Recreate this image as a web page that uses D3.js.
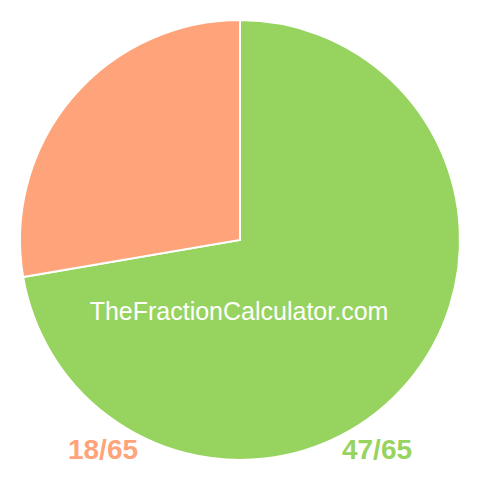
<!DOCTYPE html>
<html><head><meta charset="utf-8">
<script src="https://cdn.jsdelivr.net/npm/d3@7"></script>
<style>body{margin:0;background:#fff}svg{display:block}</style>
</head><body>
<svg id="c" width="480" height="480"></svg>
<script>
const categories = ["47/65", "18/65"];
const values = [47, 18];
const colors = ["#97D45F", "#FFA47A"];
const watermark = "TheFractionCalculator.com";

const svg = d3.select("#c");
const cx = 240, cy = 240, r = 220;
const pie = d3.pie().sort(null).value(d => d)(values);
const arc = d3.arc().innerRadius(0).outerRadius(r);
const g = svg.append("g").attr("transform", `translate(${cx},${cy})`);
g.selectAll("path").data(pie).join("path")
  .attr("d", arc)
  .attr("fill", (d, i) => colors[i])
  .attr("stroke", "#fff").attr("stroke-width", 2);

svg.append("text").attr("x", 239).attr("y", 320)
  .attr("text-anchor", "middle")
  .attr("font-family", "Liberation Sans, Arial, sans-serif")
  .attr("font-size", 25).attr("fill", "#fff")
  .text(watermark);

const labelPos = [[377, 459], [103, 459]];
svg.selectAll("text.lbl").data(categories).join("text")
  .attr("class", "lbl")
  .attr("x", (d, i) => labelPos[i][0]).attr("y", (d, i) => labelPos[i][1])
  .attr("text-anchor", "middle")
  .attr("font-family", "Liberation Sans, Arial, sans-serif")
  .attr("font-weight", "bold").attr("font-size", 28)
  .attr("fill", (d, i) => colors[i])
  .text(d => d);
</script>
</body></html>
